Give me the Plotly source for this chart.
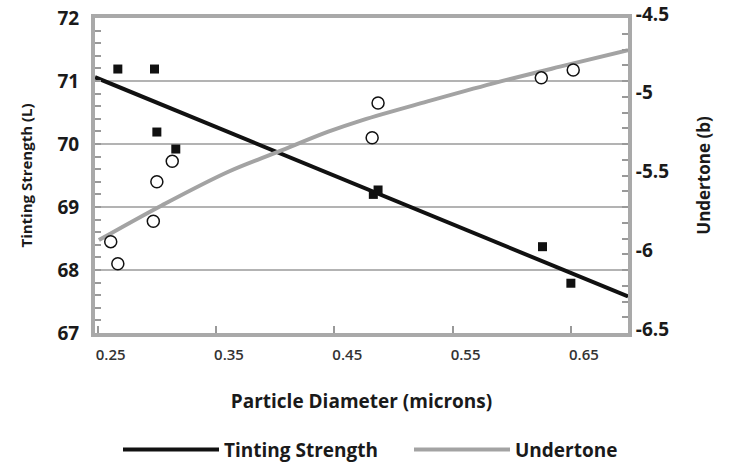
import plotly.graph_objects as go

# ---- data ----
diam_ts = [0.267, 0.298, 0.300, 0.316, 0.483, 0.487, 0.626, 0.650]
tinting = [71.19, 71.19, 70.19, 69.92, 69.20, 69.27, 68.37, 67.79]

diam_ut = [0.261, 0.267, 0.297, 0.300, 0.313, 0.482, 0.487, 0.625, 0.652]
undertone = [-5.92, -6.06, -5.79, -5.54, -5.41, -5.26, -5.04, -4.88, -4.83]

ts_trend_x = [0.2477, 0.6983]
ts_trend = [71.06, 67.58]

ut_trend_x = [0.2510, 0.3041, 0.3604, 0.4027, 0.4449, 0.4738, 0.5281, 0.5844, 0.6408, 0.6983]
ut_trend = [-5.910, -5.690, -5.476, -5.349, -5.222, -5.148, -5.031, -4.915, -4.809, -4.705]

x_ticks = [0.25, 0.35, 0.45, 0.55, 0.65]
x_tick_labels = ["0.25", "0.35", "0.45", "0.55", "0.65"]
left_ticks = [67, 68, 69, 70, 71, 72]
left_tick_labels = ["67", "68", "69", "70", "71", "72"]
right_ticks = [-6.5, -6.0, -5.5, -5.0, -4.5]
right_tick_labels = ["-6.5", "-6", "-5.5", "-5", "-4.5"]

FONT = "Open Sans"
FRAME = "#a9a9a9"
TXT = "#1a1a1a"

fig = go.Figure()

fig.add_trace(go.Scatter(
    x=ts_trend_x, y=ts_trend, mode="lines", name="Tinting Strength",
    line=dict(color="#111111", width=4), yaxis="y", showlegend=True, legend="legend"))
fig.add_trace(go.Scatter(
    x=diam_ts, y=tinting, mode="markers", name="Tinting Strength data",
    marker=dict(symbol="square", size=9, color="#111111"),
    yaxis="y", showlegend=False))
fig.add_trace(go.Scatter(
    x=ut_trend_x, y=ut_trend, mode="lines", name="Undertone",
    line=dict(color="#a3a3a3", width=4, shape="spline"), yaxis="y2",
    showlegend=True, legend="legend2"))
fig.add_trace(go.Scatter(
    x=diam_ut, y=undertone, mode="markers", name="Undertone data",
    marker=dict(symbol="circle", size=12, color="white",
                line=dict(color="#111111", width=1.5)),
    yaxis="y2", showlegend=False))

legend_common = dict(
    orientation="h", xref="container", yref="container",
    xanchor="left", y=0.029, yanchor="middle", itemwidth=96,
    font=dict(family=FONT, size=19, color=TXT, weight="bold"),
    bgcolor="rgba(0,0,0,0)",
)

fig.update_layout(
    width=729, height=463,
    margin=dict(l=95, r=101, t=18, b=130, autoexpand=False),
    paper_bgcolor="white", plot_bgcolor="white",
    font=dict(family=FONT, color=TXT),
    xaxis=dict(
        range=[0.2477, 0.6983], tickmode="array", tickvals=x_ticks, ticktext=x_tick_labels,
        ticks="inside", ticklen=7, tickwidth=1.5, tickcolor="#999999",
        ticklabelshift=13, ticklabelstandoff=5, automargin=False,
        showline=True, linecolor=FRAME, linewidth=4, mirror=True,
        showgrid=False, zeroline=False,
        tickfont=dict(family=FONT, size=15, color="#333333", weight=600),
        title=dict(text="Particle Diameter (microns)", standoff=33,
                   font=dict(family=FONT, size=19, color=TXT, weight="bold")),
    ),
    yaxis=dict(
        range=[67, 72], tickmode="array", tickvals=left_ticks, ticktext=left_tick_labels,
        ticks="inside", ticklen=6, tickwidth=1.5, tickcolor="#999999",
        minor=dict(ticks="inside", dtick=0.2, ticklen=6, tickwidth=1.5,
                   tickcolor="#999999", showgrid=False),
        showline=True, linecolor=FRAME, linewidth=4, mirror=True,
        showgrid=True, gridcolor="#b3b3b3", gridwidth=2, zeroline=False,
        ticklabelstandoff=8, automargin=False,
        tickfont=dict(family=FONT, size=19, color=TXT, weight="bold"),
        title=dict(text="Tinting Strength (L)", standoff=22,
                   font=dict(family=FONT, size=15, color=TXT, weight="bold")),
    ),
    yaxis2=dict(
        overlaying="y", side="right",
        range=[-6.5, -4.5], tickmode="array", tickvals=right_ticks, ticktext=right_tick_labels,
        ticks="inside", ticklen=6, tickwidth=1.5, tickcolor="#999999",
        minor=dict(ticks="inside", dtick=0.1, ticklen=6, tickwidth=1.5,
                   tickcolor="#999999", showgrid=False),
        showline=True, linecolor=FRAME, linewidth=4,
        showgrid=False, zeroline=False, automargin=False,
        ticklabelstandoff=0, ticklabelshift=-4,
        tickfont=dict(family=FONT, size=19, color=TXT, weight="bold"),
        title=dict(text="Undertone (b)", standoff=31,
                   font=dict(family=FONT, size=17, color=TXT, weight="bold")),
    ),
    legend=dict(x=118 / 729, **legend_common),
    legend2=dict(x=409 / 729, **legend_common),
)

fig.write_html("out.html", config={"displayModeBar": False},
               post_script="document.body.style.margin='0';")
